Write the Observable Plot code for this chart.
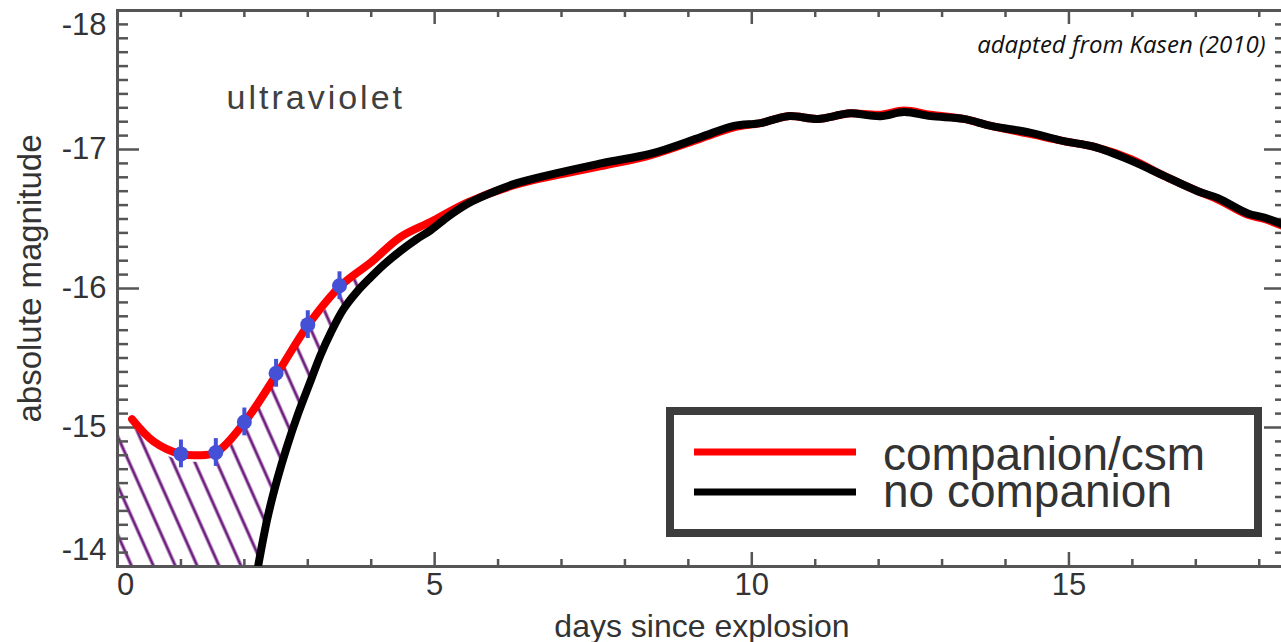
<!DOCTYPE html>
<html><head><meta charset="utf-8">
<script src="https://cdn.jsdelivr.net/npm/d3@7"></script>
<script src="https://cdn.jsdelivr.net/npm/@observablehq/plot@0.6"></script>
<style>
html,body{margin:0;padding:0;background:#fff;overflow:hidden;}
#wrap{position:relative;width:1281px;height:642px;}
#legend{position:absolute;left:0;top:0;pointer-events:none;}
</style></head><body><div id="wrap"></div>
<script>
// ---- data ----
const redDays = [0.23, 0.57, 0.99, 1.26, 1.55, 1.99, 2.52, 3.01, 3.52, 4.00, 4.46, 4.94, 5.52, 6.31, 7.62, 8.41, 9.20, 9.72, 10.14, 10.57, 11.04, 11.40, 11.56, 12.03, 12.40, 12.82, 13.34, 13.77, 14.40, 14.92, 15.39, 15.98, 16.50, 17.03, 17.35, 17.82, 18.08, 18.43];
const redMag = [-15.06, -14.90, -14.81, -14.80, -14.82, -15.03, -15.39, -15.74, -16.02, -16.19, -16.37, -16.48, -16.62, -16.75, -16.88, -16.96, -17.08, -17.16, -17.19, -17.24, -17.22, -17.25, -17.26, -17.25, -17.28, -17.25, -17.22, -17.17, -17.11, -17.06, -17.02, -16.93, -16.81, -16.70, -16.64, -16.53, -16.50, -16.44];

const blackDays = [2.22, 2.37, 2.52, 2.67, 2.84, 3.04, 3.20, 3.36, 3.56, 3.78, 3.99, 4.22, 4.46, 4.70, 4.94, 5.22, 5.52, 5.90, 6.31, 7.62, 8.41, 9.20, 9.72, 10.14, 10.57, 11.04, 11.40, 11.56, 12.03, 12.40, 12.82, 13.34, 13.77, 14.40, 14.92, 15.39, 15.98, 16.50, 17.03, 17.35, 17.82, 18.08, 18.43];
const blackMag = [-14.01, -14.36, -14.63, -14.86, -15.09, -15.33, -15.52, -15.68, -15.85, -15.98, -16.08, -16.18, -16.27, -16.35, -16.42, -16.52, -16.61, -16.69, -16.76, -16.90, -16.97, -17.09, -17.17, -17.19, -17.24, -17.22, -17.25, -17.26, -17.24, -17.27, -17.24, -17.22, -17.17, -17.12, -17.06, -17.02, -16.92, -16.81, -16.70, -16.65, -16.54, -16.51, -16.45];

const obsDays = [1.0, 1.55, 2.0, 2.5, 3.0, 3.5];
const obsMag = [-14.81, -14.82, -15.04, -15.39, -15.74, -16.02];
const obsErr = [0.1, 0.1, 0.1, 0.1, 0.1, 0.1];

const hatchDays = [0, 0.23, 0.57, 0.99, 1.26, 1.55, 1.99, 2.52, 3.01, 3.52, 3.85];
const hatchTop = [-14.97, -15.0, -14.85, -14.76, -14.75, -14.77, -14.98, -15.34, -15.69, -15.97, -16.12];

const xTickLabels = [0, 5, 10, 15];
const yTickLabels = [-18, -17, -16, -15, -14];
const seriesNames = ["companion/csm", "no companion"];
const bandLabel = "ultraviolet";
const creditText = "adapted from Kasen (2010)";
const xTitle = "days since explosion";
const yTitle = "absolute magnitude";

// ---- build tables ----
const red = redDays.map((d, i) => ({d, m: redMag[i]}));
const black = blackDays.map((d, i) => ({d, m: blackMag[i]}));
const obs = obsDays.map((d, i) => ({d, m: obsMag[i], e: obsErr[i]}));
const hatch = hatchDays.map((d, i) => ({d, top: hatchTop[i]}));
const blackHead = black.filter(p => p.d <= 4.0);
const minorX = d3.range(1, 19).filter(d => d % 5 !== 0);
const minorY = d3.range(1, 40).map(i => Math.round((-18 + i * 0.1) * 10) / 10).filter(v => !Number.isInteger(v));

const W = 1281, H = 642, mL = 117, mR = -5, mT = 10, mB = 76;
const plotW = W - mL - mR, plotH = H - mT - mB;
const gray = "#555555";
const blue = "#4450d6";
const fmt = d => String(d);

const chart = Plot.plot({
  width: W, height: H,
  marginLeft: mL, marginRight: mR, marginTop: mT, marginBottom: mB,
  x: {domain: [0, 18.43]},
  y: {domain: [-14, -18]},
  style: {fontFamily: "'Liberation Sans', Arial, sans-serif", fontSize: "31px", color: "#333", background: "white", overflow: "visible"},
  marks: [
    Plot.areaY(hatch, {x: "d", y1: "top", y2: () => -14, fill: "url(#hatch)", curve: "catmull-rom"}),
    Plot.areaY(blackHead, {x: "d", y1: "m", y2: () => -14, fill: "white", curve: "catmull-rom"}),
    // inward ticks
    Plot.tickX(minorX, {x: d => d, stroke: gray, strokeWidth: 2.5, insetTop: plotH - 7}),
    Plot.tickX(minorX, {x: d => d, stroke: gray, strokeWidth: 2.5, insetBottom: plotH - 7}),
    Plot.tickX(xTickLabels, {x: d => d, stroke: gray, strokeWidth: 2.5, insetTop: plotH - 14}),
    Plot.tickX(xTickLabels, {x: d => d, stroke: gray, strokeWidth: 2.5, insetBottom: plotH - 14}),
    Plot.tickY(minorY, {y: d => d, stroke: gray, strokeWidth: 2.5, insetRight: plotW - 11}),
    Plot.tickY(minorY, {y: d => d, stroke: gray, strokeWidth: 2.5, insetLeft: plotW - 11}),
    Plot.tickY(yTickLabels, {y: d => d, stroke: gray, strokeWidth: 2.5, insetRight: plotW - 22}),
    Plot.tickY(yTickLabels, {y: d => d, stroke: gray, strokeWidth: 2.5, insetLeft: plotW - 22}),
    Plot.frame({stroke: gray, strokeWidth: 3}),
    // tick labels
    Plot.axisX(xTickLabels.filter(d => d !== 0), {tickSize: 0, tickPadding: 6, tickFormat: fmt, color: "#333", label: null}),
    Plot.axisX([0], {tickSize: 0, tickPadding: 6, tickFormat: fmt, color: "#333", dx: 8, label: null}),
    Plot.axisY(yTickLabels.filter(d => d !== -18 && d !== -14), {tickSize: 0, tickPadding: 11, tickFormat: fmt, color: "#333", label: null}),
    Plot.axisY([-18], {tickSize: 0, tickPadding: 11, tickFormat: fmt, color: "#333", dy: 15, label: null}),
    Plot.axisY([-14], {tickSize: 0, tickPadding: 11, tickFormat: fmt, color: "#333", dy: -16, label: null}),
    // curves
    Plot.line(red, {x: "d", y: "m", stroke: "#ff0000", strokeWidth: 8, curve: "catmull-rom", clip: true}),
    Plot.line(black, {x: "d", y: "m", stroke: "#000000", strokeWidth: 8, curve: "catmull-rom", clip: true}),
    // observations
    Plot.ruleX(obs, {x: "d", y1: p => p.m - p.e, y2: p => p.m + p.e, stroke: blue, strokeWidth: 4}),
    Plot.dot(obs, {x: "d", y: "m", r: 7.5, fill: blue, stroke: "none"}),
    // texts
    Plot.text([bandLabel], {text: d => d, frameAnchor: "top-left", dx: 109, dy: 98, textAnchor: "start", lineAnchor: "bottom", fontSize: 34, fill: "#404040"}),
    Plot.text([creditText], {text: d => d, frameAnchor: "top-right", dx: -21, dy: 42, textAnchor: "end", lineAnchor: "bottom", fontSize: 24, fontStyle: "italic", fontFamily: "'Open Sans', sans-serif", fill: "#111"}),
    Plot.text([xTitle], {text: d => d, frameAnchor: "bottom", dy: 60, textAnchor: "middle", lineAnchor: "middle", fontSize: 32, fill: "#333"}),
    Plot.text([yTitle], {text: d => d, frameAnchor: "left", dx: -87, dy: -10, rotate: -90, textAnchor: "middle", lineAnchor: "middle", fontSize: 33, fill: "#333"})
  ]
});

// hatch pattern definition
const ns = "http://www.w3.org/2000/svg";
const defs = document.createElementNS(ns, "defs");
defs.innerHTML = `<pattern id="hatch" patternUnits="userSpaceOnUse" width="20" height="20" patternTransform="rotate(-24)">
  <line x1="10" y1="-5" x2="10" y2="25" stroke="#6e1f7f" stroke-width="3"/></pattern>`;
chart.insertBefore(defs, chart.firstChild);
chart.querySelectorAll("text").forEach(t => { if (t.textContent === bandLabel) t.setAttribute("letter-spacing", "3"); });

const wrap = document.getElementById("wrap");
wrap.appendChild(chart);

// legend overlay (inside the plot area, like the reference)
const leg = d3.select(wrap).append("svg").attr("id", "legend").attr("width", W).attr("height", H);
leg.append("rect").attr("x", 670).attr("y", 411).attr("width", 588).attr("height", 122)
  .attr("fill", "white").attr("stroke", "#3d3d3d").attr("stroke-width", 8);
const legColors = ["#ff0000", "#000000"];
seriesNames.forEach((name, i) => {
  const yLine = 452 + i * 40;
  leg.append("line").attr("x1", 694).attr("x2", 856).attr("y1", yLine).attr("y2", yLine)
    .attr("stroke", legColors[i]).attr("stroke-width", 7);
  leg.append("text").attr("x", 883).attr("y", 470 + i * 37).text(name)
    .attr("font-family", "'Liberation Sans', Arial, sans-serif").attr("font-size", 46).attr("fill", "#333");
});
</script></body></html>
